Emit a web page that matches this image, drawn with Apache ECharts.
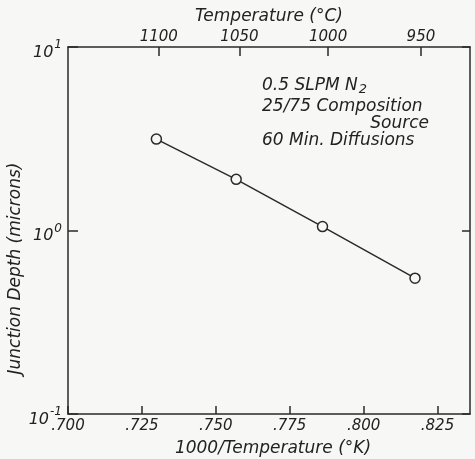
<!DOCTYPE html>
<html>
<head>
<meta charset="utf-8">
<script src="https://cdn.jsdelivr.net/npm/echarts@6/dist/echarts.min.js"></script>
<style>
  html, body { margin: 0; padding: 0; background: #f7f7f5; }
  #chart { width: 475px; height: 459px; }
</style>
</head>
<body>
<div id="chart"></div>
<script>
// Data
var invTemp = [0.7299, 0.7569, 0.7861, 0.8174];        // 1000/T (1/K)
var junctionDepth = [3.15, 1.90, 1.05, 0.55];           // microns
// Top axis (Temperature in °C) tick positions on the 1000/T scale, and labels
var topTickPos = [0.7307, 0.7580, 0.7880, 0.8194];
var topTickLabels = ['1100', '1050', '1000', '950'];
// Bottom axis range
var xMin = 0.700, xMax = 0.836, xStep = 0.025;
// Annotation lines
var noteLines = ['0.5 SLPM N{sub|2}', '25/75 Composition', 'Source', '60 Min. Diffusions'];

var FONT = 'DejaVu Sans';
var INK = '#222';

var chart = echarts.init(document.getElementById('chart'));

var lineStyleAxis = { color: '#2a2a2a', width: 1.5 };

chart.setOption({
  backgroundColor: '#f7f7f5',
  animation: false,
  grid: { left: 68, right: 5, top: 47, bottom: 45, containLabel: false, outerBoundsMode: 'none' },
  xAxis: [
    {
      type: 'value', position: 'bottom', min: xMin, max: xMax, interval: xStep,
      axisLine: { show: true, lineStyle: lineStyleAxis },
      axisTick: { show: true, inside: true, length: 8, lineStyle: lineStyleAxis },
      splitLine: { show: false },
      axisLabel: {
        showMaxLabel: false, margin: 5,
        fontFamily: FONT, fontStyle: 'italic', fontSize: 15, color: INK,
        formatter: function (v) { return v.toFixed(3).replace(/^0/, ''); }
      },
      name: '1000/Temperature (\u00B0K)', nameLocation: 'middle', nameGap: 26,
      nameTextStyle: { fontFamily: FONT, fontStyle: 'italic', fontSize: 17, color: INK, padding: [0, 0, 0, 8] }
    },
    {
      type: 'value', position: 'top', min: xMin, max: xMax,
      axisLine: { show: true, lineStyle: lineStyleAxis },
      axisTick: { show: true, inside: true, length: 9, customValues: topTickPos, lineStyle: lineStyleAxis },
      splitLine: { show: false },
      axisLabel: {
        customValues: topTickPos, margin: 2,
        fontFamily: FONT, fontStyle: 'italic', fontSize: 15, color: INK,
        formatter: function (v) {
          var best = 0, d = Infinity;
          for (var i = 0; i < topTickPos.length; i++) {
            var dd = Math.abs(topTickPos[i] - v);
            if (dd < d) { d = dd; best = i; }
          }
          return topTickLabels[best];
        }
      },
      name: 'Temperature (\u00B0C)', nameLocation: 'middle', nameGap: 22,
      nameTextStyle: { fontFamily: FONT, fontStyle: 'italic', fontSize: 17, color: INK, padding: [0, 0, 0, 0] }
    }
  ],
  yAxis: [
    {
      type: 'log', logBase: 10, min: 0.1, max: 10, position: 'left',
      axisLine: { show: true, lineStyle: lineStyleAxis },
      axisTick: { show: true, inside: true, length: 10, lineStyle: lineStyleAxis },
      minorTick: { show: false },
      splitLine: { show: false },
      axisLabel: {
        margin: 6,
        formatter: function (v) {
          var e = Math.round(Math.log(v) / Math.LN10);
          return '{b|10}{s|' + (e < 0 ? '-' : '') + Math.abs(e) + '}';
        },
        rich: {
          b: { fontFamily: FONT, fontStyle: 'italic', fontSize: 16, color: INK, padding: [11, 0, 0, 0] },
          s: { fontFamily: FONT, fontStyle: 'italic', fontSize: 12, color: INK, padding: [0, 0, 4, 1] }
        }
      },
      name: 'Junction Depth (microns)', nameLocation: 'middle', nameGap: 44, nameRotate: 90,
      nameMoveOverlap: false,
      nameTextStyle: { fontFamily: FONT, fontStyle: 'italic', fontSize: 17, color: INK, padding: [0, 76, 0, 0] }
    },
    {
      type: 'log', logBase: 10, min: 0.1, max: 10, position: 'right',
      axisLine: { show: true, lineStyle: lineStyleAxis },
      axisTick: { show: true, inside: true, length: 8, lineStyle: lineStyleAxis },
      minorTick: { show: false },
      splitLine: { show: false },
      axisLabel: { show: false }
    }
  ],
  graphic: [
    { type: 'text', x: 262, y: 86, style: { text: noteLines[0], font: 'italic 17px "DejaVu Sans"', fill: INK, verticalAlign: 'middle',
      rich: { sub: { fontFamily: FONT, fontStyle: 'italic', fontSize: 13, fill: INK, padding: [8, 0, 0, 1] } } } },
    { type: 'text', x: 262, y: 107, style: { text: noteLines[1], font: 'italic 17px "DejaVu Sans"', fill: INK, verticalAlign: 'middle' } },
    { type: 'text', x: 429, y: 124, style: { text: noteLines[2], font: 'italic 17px "DejaVu Sans"', fill: INK, verticalAlign: 'middle', align: 'right' } },
    { type: 'text', x: 262, y: 141, style: { text: noteLines[3], font: 'italic 17px "DejaVu Sans"', fill: INK, verticalAlign: 'middle' } }
  ],
  series: [
    {
      type: 'line', xAxisIndex: 0, yAxisIndex: 0,
      data: invTemp.map(function (x, i) { return [x, junctionDepth[i]]; }),
      symbol: 'circle', symbolSize: 10,
      lineStyle: { color: '#2a2a2a', width: 1.5 },
      itemStyle: { color: '#f7f7f5', borderColor: '#2a2a2a', borderWidth: 1.5 }
    }
  ]
});
</script>
</body>
</html>
